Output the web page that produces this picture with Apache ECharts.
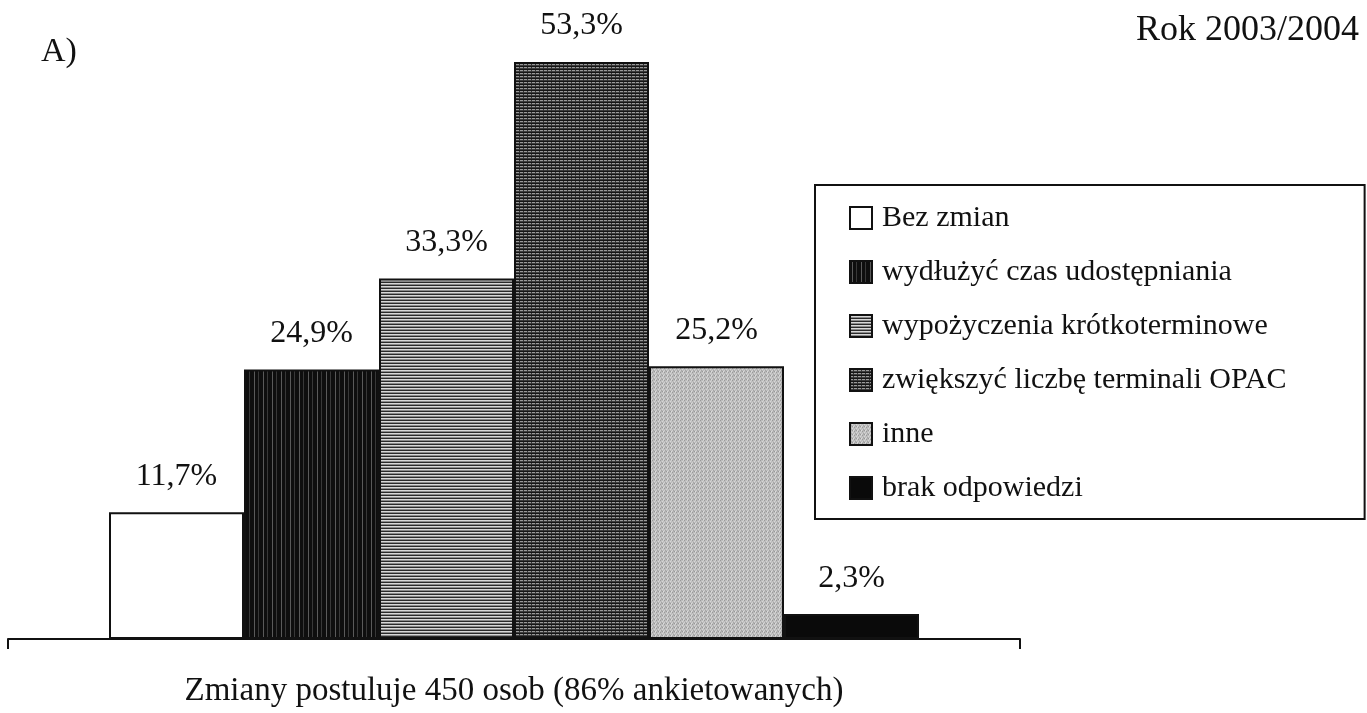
<!DOCTYPE html>
<html>
<head>
<meta charset="utf-8">
<script src="https://cdn.jsdelivr.net/npm/echarts@6/dist/echarts.min.js"></script>
<style>html,body{margin:0;padding:0;background:#fff;}#c{width:1367px;height:713px;}</style>
</head>
<body>
<div id="c"></div>
<script>
const categories = ['A'];
const seriesNames = ['Bez zmian', 'wydłużyć czas udostępniania', 'wypożyczenia krótkoterminowe', 'zwiększyć liczbę terminali OPAC', 'inne', 'brak odpowiedzi'];
const seriesValues = [11.7, 24.9, 33.3, 53.3, 25.2, 2.3];
const valueLabels = ['11,7%', '24,9%', '33,3%', '53,3%', '25,2%', '2,3%'];
const axisTitle = 'Zmiany postuluje 450 osob (86% ankietowanych)';
const panelLabel = 'A)';
const yearLabel = 'Rok 2003/2004';

function pat(w, h, bg, draw) {
  const c = document.createElement('canvas');
  c.width = w; c.height = h;
  const g = c.getContext('2d');
  g.fillStyle = bg; g.fillRect(0, 0, w, h);
  if (draw) draw(g);
  return { image: c, repeat: 'repeat' };
}
const fills = [
  '#ffffff',
  pat(9, 2, '#0e0e0e', g => { g.fillStyle = '#5a5a5a'; g.fillRect(2, 0, 1, 2); g.fillStyle = '#383838'; g.fillRect(6, 0, 1, 2); }),
  pat(2, 3, '#8a8a8a', g => { g.fillStyle = '#2a2a2a'; g.fillRect(0, 0, 2, 1); g.fillStyle = '#d8d8d8'; g.fillRect(0, 1, 2, 1); }),
  pat(4, 3, '#3e3e3e', g => { g.fillStyle = '#161616'; g.fillRect(0, 0, 4, 1); g.fillStyle = '#9a9a9a'; g.fillRect(0, 1, 4, 1); g.fillStyle = '#333'; g.fillRect(3, 1, 1, 2); }),
  pat(4, 4, '#bdbdbd', g => {
    const px = [[0,0,'#9a9a9a'],[2,1,'#d6d6d6'],[1,2,'#a5a5a5'],[3,3,'#dcdcdc'],[3,0,'#cfcfcf'],[1,3,'#b0b0b0'],[0,2,'#d0d0d0'],[2,3,'#999']];
    px.forEach(p => { g.fillStyle = p[2]; g.fillRect(p[0], p[1], 1, 1); });
  }),
  '#0a0a0a'
];

const font = 'Liberation Serif';
const chart = echarts.init(document.getElementById('c'));
chart.setOption({
  animation: false,
  backgroundColor: '#ffffff',
  title: [
    { text: panelLabel, left: 36, top: 30, textStyle: { fontFamily: font, fontSize: 34, fontWeight: 'normal', color: '#111' } },
    { text: yearLabel, right: 3, top: 8, textStyle: { fontFamily: font, fontSize: 36, fontWeight: 'normal', color: '#111' } }
  ],
  legend: {
    orient: 'vertical',
    left: 815, top: 185,
    padding: [18, 78, 16, 34],
    itemWidth: 22, itemHeight: 22, itemGap: 24,
    borderColor: '#111', borderWidth: 2,
    selectedMode: false,
    icon: 'rect',
    textStyle: { fontFamily: font, fontSize: 30, color: '#111', lineHeight: 24, padding: [0, 0, 0, 5] },
    data: seriesNames
  },
  grid: { left: 8, right: 347, top: 43.6, bottom: 74, containLabel: false },
  xAxis: {
    type: 'category',
    data: categories,
    boundaryGap: true,
    axisLine: { lineStyle: { color: '#111', width: 2 } },
    axisTick: { show: true, length: 10, lineStyle: { color: '#111', width: 2 } },
    axisLabel: { show: false },
    name: axisTitle,
    nameLocation: 'middle',
    nameGap: 36,
    nameTextStyle: { fontFamily: font, fontSize: 33, color: '#111' }
  },
  yAxis: { type: 'value', min: 0, max: 55, show: false, splitLine: { show: false } },
  series: seriesNames.map((n, i) => ({
    name: n,
    type: 'bar',
    data: [seriesValues[i]],
    barWidth: 135,
    barGap: '0%',
    itemStyle: { color: fills[i], borderColor: '#111', borderWidth: 2 },
    label: {
      show: true, position: 'top', distance: 20,
      formatter: () => valueLabels[i],
      fontFamily: font, fontSize: 32, color: '#111'
    }
  }))
});
</script>
</body>
</html>
